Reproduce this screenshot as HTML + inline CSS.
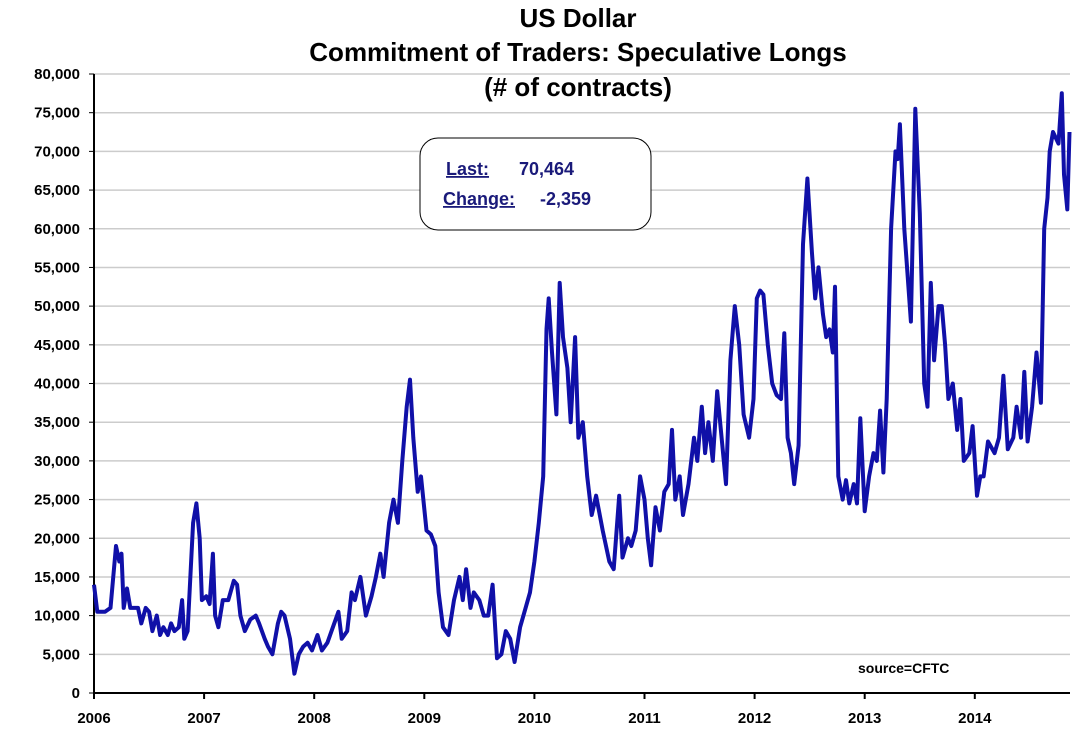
<!DOCTYPE html>
<html><head><meta charset="utf-8"><style>
body{margin:0;background:#fff;}
svg text{font-family:"Liberation Sans",sans-serif;font-weight:bold;}
</style></head><body>
<svg width="1080" height="732" xmlns="http://www.w3.org/2000/svg">
<g id="title" font-size="26" text-anchor="middle" fill="#000">
<text x="578" y="27">US Dollar</text>
<text x="578" y="61">Commitment of Traders: Speculative Longs</text>
<text x="578" y="96">(# of contracts)</text>
</g>
<g id="grid"></g>
<g id="yaxis"></g>
<g id="xaxis"></g>
<path id="line" fill="none" stroke="#1010a8" stroke-width="4" stroke-linejoin="round"/>
<g>
<rect x="420" y="138" width="231" height="92" rx="18" fill="#fff" stroke="#000" stroke-width="1"/>
<text x="446" y="175" font-size="18" fill="#1a1a7a" text-decoration="underline">Last:</text>
<text x="519" y="175" font-size="18" fill="#1a1a7a">70,464</text>
<text x="443" y="205" font-size="18" fill="#1a1a7a" text-decoration="underline">Change:</text>
<text x="540" y="205" font-size="18" fill="#1a1a7a">-2,359</text>
</g>
<text x="858" y="673" font-size="14" fill="#000">source=CFTC</text>
</svg>
<script>
const yTicks=[0,5000,10000,15000,20000,25000,30000,35000,40000,45000,50000,55000,60000,65000,70000,75000,80000];
const xYears=[2006,2007,2008,2009,2010,2011,2012,2013,2014];
const dates=[2006.00,2006.03,2006.1,2006.15,2006.2,2006.23,2006.25,2006.27,2006.3,2006.33,2006.4,2006.43,2006.47,2006.5,2006.53,2006.57,2006.6,2006.63,2006.67,2006.7,2006.73,2006.77,2006.8,2006.82,2006.85,2006.9,2006.93,2006.96,2006.98,2007.02,2007.05,2007.08,2007.1,2007.13,2007.17,2007.22,2007.27,2007.3,2007.33,2007.37,2007.42,2007.47,2007.5,2007.55,2007.58,2007.62,2007.67,2007.7,2007.73,2007.78,2007.82,2007.86,2007.9,2007.94,2007.98,2008.03,2008.07,2008.12,2008.17,2008.22,2008.25,2008.3,2008.34,2008.37,2008.42,2008.47,2008.52,2008.56,2008.6,2008.63,2008.68,2008.72,2008.76,2008.8,2008.84,2008.87,2008.9,2008.94,2008.97,2009.02,2009.06,2009.1,2009.13,2009.17,2009.22,2009.27,2009.32,2009.35,2009.38,2009.42,2009.45,2009.5,2009.54,2009.58,2009.62,2009.66,2009.7,2009.74,2009.78,2009.82,2009.87,2009.92,2009.96,2010.0,2010.04,2010.08,2010.11,2010.13,2010.16,2010.2,2010.23,2010.26,2010.3,2010.33,2010.37,2010.4,2010.44,2010.48,2010.52,2010.56,2010.62,2010.68,2010.72,2010.77,2010.8,2010.85,2010.88,2010.92,2010.96,2011.0,2011.03,2011.06,2011.1,2011.14,2011.18,2011.22,2011.25,2011.28,2011.32,2011.35,2011.4,2011.45,2011.48,2011.52,2011.55,2011.58,2011.62,2011.66,2011.7,2011.74,2011.78,2011.82,2011.86,2011.9,2011.95,2011.99,2012.02,2012.05,2012.08,2012.12,2012.16,2012.2,2012.24,2012.27,2012.3,2012.33,2012.36,2012.4,2012.44,2012.48,2012.52,2012.55,2012.58,2012.62,2012.65,2012.68,2012.71,2012.73,2012.76,2012.8,2012.83,2012.86,2012.9,2012.93,2012.96,2013.0,2013.04,2013.08,2013.11,2013.14,2013.17,2013.2,2013.24,2013.28,2013.3,2013.32,2013.36,2013.42,2013.46,2013.5,2013.54,2013.57,2013.6,2013.63,2013.67,2013.7,2013.73,2013.76,2013.8,2013.84,2013.87,2013.9,2013.95,2013.98,2014.02,2014.05,2014.08,2014.12,2014.18,2014.22,2014.26,2014.3,2014.35,2014.38,2014.42,2014.45,2014.48,2014.52,2014.56,2014.6,2014.63,2014.66,2014.68,2014.71,2014.76,2014.79,2014.81,2014.84,2014.86];
const longs=[14,10.5,10.5,11,19,17,18,11,13.5,11,11,9,11,10.5,8,10,7.5,8.5,7.5,9,8,8.5,12,7,8,22,24.5,20,12,12.5,11.5,18,10,8.5,12,12,14.5,14,10,8,9.5,10,9,7,6,5,9,10.5,10,7,2.5,5,6,6.5,5.5,7.5,5.5,6.5,8.5,10.5,7,8,13,12,15,10,12.5,15,18,15,22,25,22,30,37,40.5,33,26,28,21,20.5,19,13,8.5,7.5,12,15,12,16,11,13,12,10,10,14,4.5,5,8,7,4,8.5,11,13,17,22,28,47,51,44,36,53,46,42,35,46,33,35,28,23,25.5,21,17,16,25.5,17.5,20,19,21,28,25,20,16.5,24,21,26,27,34,25,28,23,27,33,30,37,31,35,30,39,33,27,43,50,45,36,33,38,51,52,51.5,45,40,38.5,38,46.5,33,31,27,32,58,66.5,57,51,55,49,46,47,44,52.5,28,25,27.5,24.5,27,24.5,35.5,23.5,28,31,30,36.5,28.5,38,60,70,69,73.5,60,48,75.5,62,40,37,53,43,50,50,45,38,40,34,38,30,31,34.5,25.5,28,28,32.5,31,33,41,31.5,33,37,33,41.5,32.5,37,44,37.5,60,64,70,72.5,71,77.5,67,62.5,72.5,70.5];
const X0=94,X1=1070,Y0=693,Y1=74;
const yScale=v=>Y0-(v/80000)*(Y0-Y1);
const xScale=d=>X0+(d-2006)*110.1;
const ns='http://www.w3.org/2000/svg';
const grid=document.getElementById('grid'),ya=document.getElementById('yaxis'),xa=document.getElementById('xaxis');
yTicks.forEach(t=>{
 const y=yScale(t);
 if(t>0){const l=document.createElementNS(ns,'line');
 
 
 l.setAttribute('x1',X0);l.setAttribute('x2',X1);l.setAttribute('y1',y);l.setAttribute('y2',y);l.setAttribute('stroke','#cccccc');l.setAttribute('stroke-width','1.5');grid.appendChild(l);}
 const tk=document.createElementNS(ns,'line');
 
 
 tk.setAttribute('x1',X0-5);tk.setAttribute('x2',X0);tk.setAttribute('y1',y);tk.setAttribute('y2',y);tk.setAttribute('stroke','#000');ya.appendChild(tk);
 const tx=document.createElementNS(ns,'text');
 
 
 tx.setAttribute('x',X0-14);tx.setAttribute('y',y+5);tx.setAttribute('text-anchor','end');tx.setAttribute('font-size','15');
 tx.textContent=t.toLocaleString('en-US');ya.appendChild(tx);
});
const ax=document.createElementNS(ns,'path');


ax.setAttribute('d',`M${X0} ${Y1}V${Y0}H${X1}`);ax.setAttribute('stroke','#000');ax.setAttribute('stroke-width','2');ax.setAttribute('fill','none');xa.appendChild(ax);
xYears.forEach(yr=>{
 const x=xScale(yr);
 const tk=document.createElementNS(ns,'line');
 
 
 tk.setAttribute('x1',x);tk.setAttribute('x2',x);tk.setAttribute('y1',Y0);tk.setAttribute('y2',Y0+6);tk.setAttribute('stroke','#000');tk.setAttribute('stroke-width','2');xa.appendChild(tk);
 const tx=document.createElementNS(ns,'text');
 
 
 tx.setAttribute('x',x);tx.setAttribute('y',723);tx.setAttribute('text-anchor','middle');tx.setAttribute('font-size','15');
 tx.textContent=yr;xa.appendChild(tx);
});
document.getElementById('line').setAttribute('d',dates.map((d,i)=>(i?'L':'M')+xScale(d).toFixed(1)+' '+yScale(longs[i]*1000).toFixed(1)).join(''));
</script>
</body></html>
